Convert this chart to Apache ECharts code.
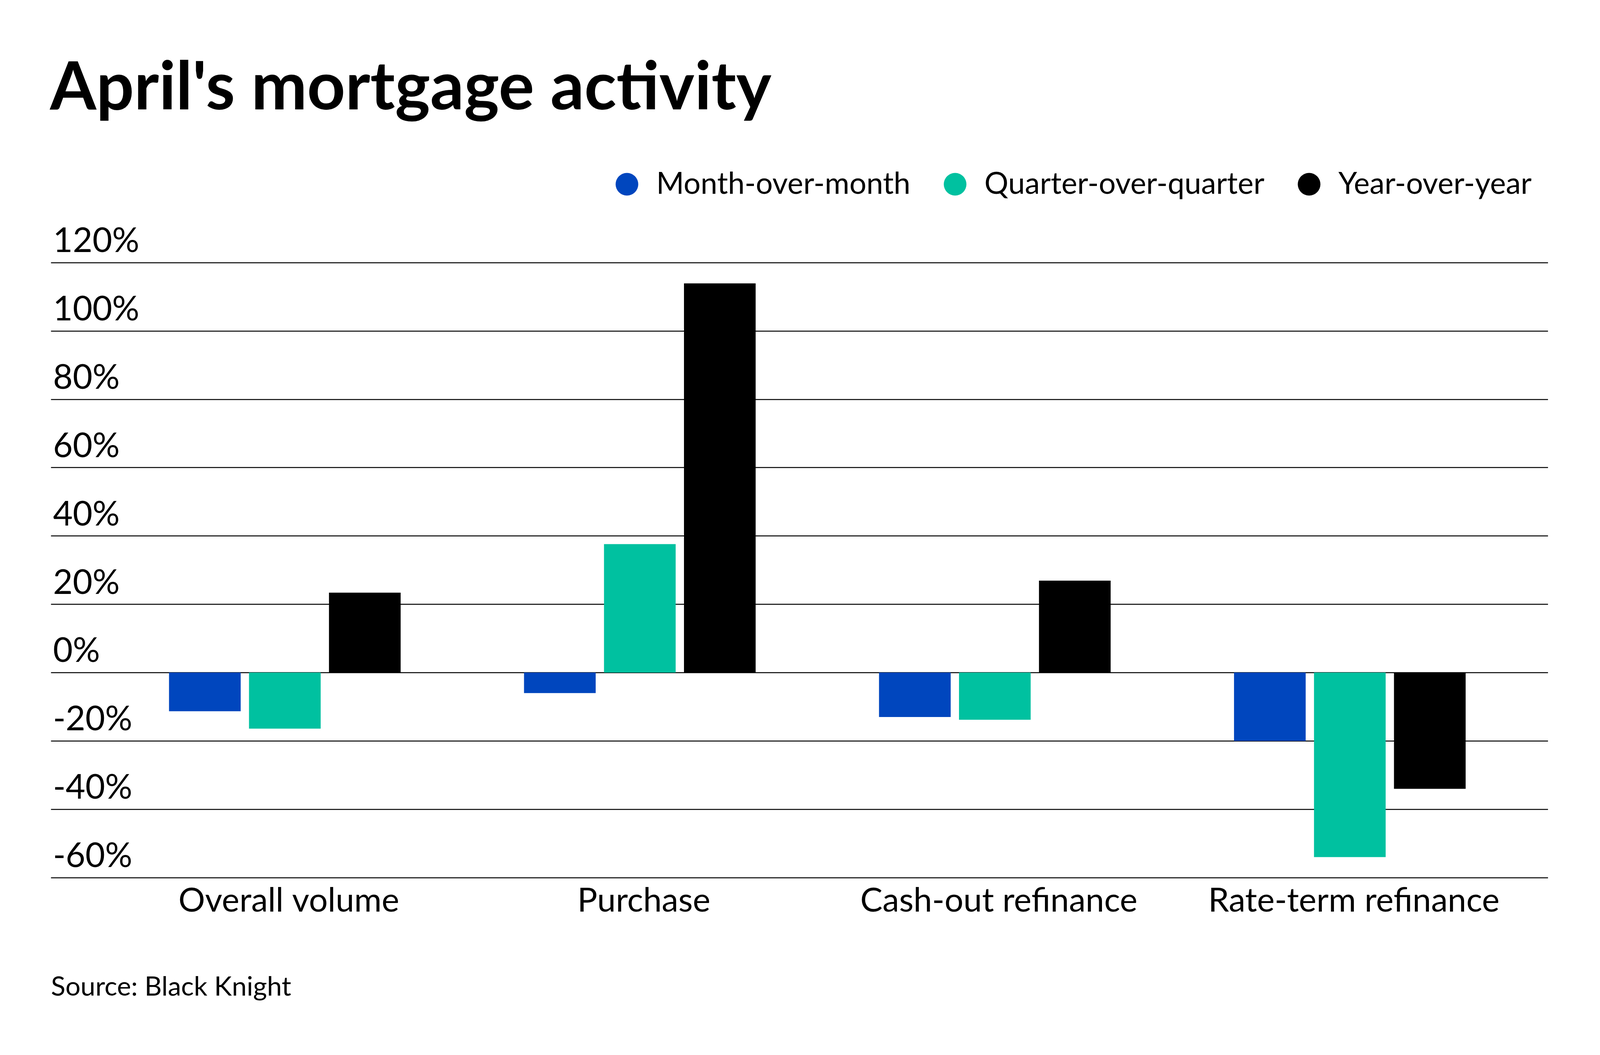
<!DOCTYPE html>
<html>
<head>
<meta charset="utf-8">
<script src="https://cdn.jsdelivr.net/npm/echarts@6/dist/echarts.min.js"></script>
<style>
html,body{margin:0;padding:0;background:#fff;overflow:hidden;}
#chart{position:absolute;left:0;top:0;}
</style>
</head>
<body>
<div id="chart"></div>
<script>
const categories = ['Overall volume', 'Purchase', 'Cash-out refinance', 'Rate-term refinance'];
const seriesNames = ['Month-over-month', 'Quarter-over-quarter', 'Year-over-year'];
const monthOverMonth = [-11.3, -6.0, -13.0, -20.0];
const quarterOverQuarter = [-16.4, 37.6, -13.8, -54.0];
const yearOverYear = [23.4, 113.9, 26.9, -34.0];
const yMin = -60, yMax = 120, yStep = 20;
const colors = ['#0046BE', '#00C1A0', '#000000'];

// Layout is designed for a 4800x2700 canvas and mapped onto the actual viewport.
const W = window.innerWidth || 4800;
const H = window.innerHeight || 2700;
const sx = W / 4800, sy = H / 2700;
const X = v => v * sx;
const Y = v => v * sy;
const F = v => v * sx;
const el = document.getElementById('chart');
el.style.width = W + 'px';
el.style.height = H + 'px';

// place a single-line text box so its vertical centre lands at design y = c
const topFor = (c, f) => Y(c) - F(f) / 2;

const chart = echarts.init(el, null, {renderer: 'canvas'});
const FONT = 'Lato';
const option = {
  animation: false,
  backgroundColor: '#ffffff',
  color: colors,
  title: [
    {
      text: "April's mortgage activity",
      left: X(150), top: topFor(225, 200),
      padding: 0,
      textStyle: {fontFamily: FONT, fontWeight: 'bold', fontSize: F(200), lineHeight: F(200), color: '#000'}
    },
    {
      text: 'Source: Black Knight',
      left: X(153), top: topFor(2526, 80),
      padding: 0,
      textStyle: {fontFamily: FONT, fontWeight: 'normal', fontSize: F(80), lineHeight: F(80), color: '#000'}
    }
  ],
  legend: {
    data: seriesNames,
    right: X(205), top: topFor(462, 68),
    padding: 0,
    icon: 'circle',
    itemWidth: F(68), itemHeight: F(68),
    itemGap: X(100),
    textStyle: {fontFamily: FONT, fontSize: F(90), color: '#000', padding: [0, 0, 0, X(48)]}
  },
  grid: [
    {left: X(153), right: W - X(4644), top: Y(672), height: Y(2246 - 672)},
    {left: X(322), right: W - X(4582), top: Y(672), height: Y(2246 - 672)}
  ],
  xAxis: [
    {type: 'category', gridIndex: 0, data: categories, show: false},
    {
      type: 'category', gridIndex: 1, data: categories,
      axisLine: {show: false}, axisTick: {show: false},
      axisLabel: {
        interval: 0, fontFamily: FONT, fontSize: F(100), color: '#000',
        margin: Y(59) - F(100) / 2, lineHeight: F(100),
        padding: [0, 0, 0, X(24)]
      }
    }
  ],
  yAxis: [
    {
      type: 'value', gridIndex: 0, min: yMin, max: yMax, interval: yStep,
      axisLine: {show: false}, axisTick: {show: false},
      splitLine: {show: true, lineStyle: {color: '#000', width: Y(2.5)}},
      axisLabel: {
        inside: true, margin: X(6), align: 'left', verticalAlign: 'bottom',
        fontFamily: FONT, fontSize: F(102), color: '#000', lineHeight: F(102),
        padding: [0, 0, Y(55) - F(102) / 2, 0],
        formatter: '{value}%'
      }
    },
    {
      type: 'value', gridIndex: 1, min: yMin, max: yMax, interval: yStep,
      show: false, splitLine: {show: false}
    }
  ],
  series: [
    {name: seriesNames[0], type: 'bar', xAxisIndex: 1, yAxisIndex: 1, data: monthOverMonth, barWidth: X(215), barGap: '11.6%'},
    {name: seriesNames[1], type: 'bar', xAxisIndex: 1, yAxisIndex: 1, data: quarterOverQuarter, barWidth: X(215), barGap: '11.6%'},
    {name: seriesNames[2], type: 'bar', xAxisIndex: 1, yAxisIndex: 1, data: yearOverYear, barWidth: X(215), barGap: '11.6%'}
  ]
};
chart.setOption(option);
</script>
</body>
</html>
